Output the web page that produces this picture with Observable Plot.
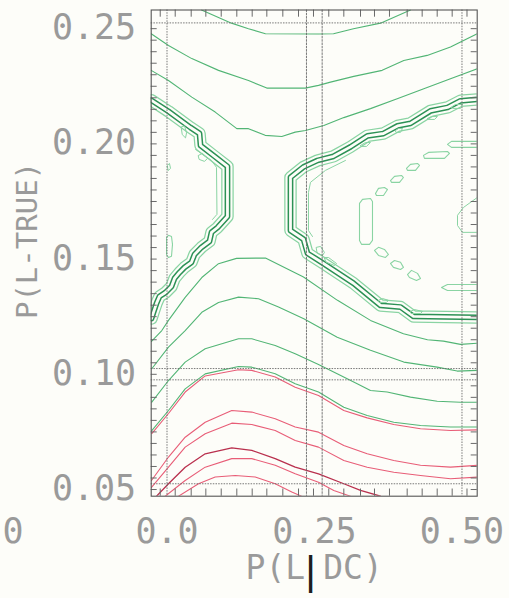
<!DOCTYPE html>
<html>
<head>
<meta charset="utf-8">
<script src="https://cdn.jsdelivr.net/npm/d3@7"></script>
<script src="https://cdn.jsdelivr.net/npm/@observablehq/plot@0.6"></script>
<style>
  html, body { margin: 0; padding: 0; background: #fdfdf9; overflow: hidden; }
</style>
</head>
<body>
<div id="chart"></div>
<script>
// ---- data (x = P(L|DC), y = P(L-TRUE)) ----
const contourA = [[0.0585,0.2556],[0.1093,0.2499],[0.1381,0.2475],[0.1669,0.2453],[0.2568,0.2452],[0.2822,0.2453],[0.3161,0.2475],[0.3619,0.2499],[0.4127,0.2556]];
const contourB = [[-0.0268,0.2453],[0.0025,0.2402],[0.042,0.2345],[0.0873,0.2294],[0.1381,0.225],[0.1692,0.2217],[0.2342,0.2217],[0.2568,0.2229],[0.2771,0.2243],[0.3166,0.2268],[0.3647,0.2294],[0.4014,0.2337],[0.441,0.2359],[0.4805,0.2395],[0.5258,0.2453]];
const contourC = [[-0.0268,0.2294],[0.0025,0.225],[0.042,0.2178],[0.0817,0.2113],[0.1183,0.2041],[0.1381,0.2041],[0.1664,0.2012],[0.1946,0.2007],[0.2173,0.2026],[0.2347,0.2033],[0.2658,0.2055],[0.2997,0.2089],[0.3449,0.2128],[0.3902,0.2171],[0.4353,0.2214],[0.4805,0.2258],[0.5258,0.2301]];

const lobeLeft = [[-0.0263,0.2164],[0.0025,0.2116],[0.0398,0.2046],[0.0551,0.202],[0.0568,0.1968],[0.0805,0.1921],[0.1025,0.1877],[0.1025,0.166],[0.0856,0.1612],[0.0754,0.1591],[0.072,0.1552],[0.0585,0.1526],[0.0466,0.1495],[0.0415,0.1461],[0.0297,0.1439],[0.0212,0.1417],[0.0127,0.1391],[0.0076,0.1356],[-0.0025,0.133],[-0.0127,0.1313],[-0.0178,0.1283],[-0.0229,0.1244],[-0.0263,0.1217]];
const lobeRight = [[0.5258,0.2168],[0.4975,0.2162],[0.4754,0.2133],[0.4466,0.2118],[0.4127,0.2064],[0.3907,0.2053],[0.3669,0.202],[0.3398,0.201],[0.311,0.1962],[0.2822,0.1921],[0.2551,0.1903],[0.2314,0.1875],[0.2093,0.183],[0.2093,0.1599],[0.2314,0.1561],[0.2381,0.15],[0.2653,0.1456],[0.3161,0.137],[0.3619,0.1274],[0.3958,0.1267],[0.4178,0.1226],[0.5258,0.1222]];
const innerLeft = [[0.0483,0.1951],[0.0754,0.1903],[0.0839,0.1873],[0.0847,0.1669],[0.0771,0.1647]];
const innerRight = [[0.3025,0.1903],[0.2686,0.186],[0.2432,0.1808],[0.2398,0.1764],[0.2398,0.1599],[0.2466,0.1573]];
const arcRight = [[0.5263,0.1743],[0.5025,0.1699],[0.4924,0.1665],[0.4924,0.1621],[0.5008,0.1591],[0.5263,0.1591]];

const islands = [
  [[0.5263,0.1986],[0.4822,0.1986],[0.4754,0.1973],[0.4822,0.196],[0.5263,0.196]],
  [[0.4347,0.1925],[0.4432,0.1938],[0.4754,0.1942],[0.4788,0.1934],[0.4703,0.1912],[0.4364,0.1912]],
  [[0.4059,0.1869],[0.4127,0.1886],[0.4246,0.189],[0.428,0.1882],[0.4212,0.186],[0.4076,0.186]],
  [[0.3788,0.1816],[0.3856,0.1834],[0.3975,0.1838],[0.4008,0.1829],[0.3941,0.1808],[0.3805,0.1808]],
  [[0.3534,0.176],[0.3585,0.1782],[0.3686,0.1786],[0.3737,0.1777],[0.3669,0.1751],[0.3551,0.1751]],
  [[0.3263,0.1717],[0.3314,0.1734],[0.3449,0.1738],[0.3483,0.1725],[0.3483,0.1556],[0.3432,0.1539],[0.3297,0.1539],[0.3263,0.1556]],
  [[0.3517,0.1513],[0.3585,0.1526],[0.3686,0.1517],[0.3754,0.1495],[0.3703,0.1482],[0.3585,0.1491]],
  [[0.3788,0.1456],[0.3856,0.1469],[0.3958,0.1461],[0.4008,0.1439],[0.3958,0.143],[0.3839,0.1439]],
  [[0.4076,0.1408],[0.4144,0.1426],[0.4246,0.1413],[0.4297,0.1391],[0.4229,0.1382],[0.411,0.1395]],
  [[0.4653,0.1352],[0.4754,0.1365],[0.5263,0.1365],[0.5263,0.1339],[0.4754,0.1339]],
  [[-0.0008,0.1569],[0.0025,0.1578],[0.0076,0.1573],[0.0093,0.1539],[0.0076,0.1487],[0.0025,0.1482],[-0.0008,0.1495],[-0.0008,0.1556]]
];
const loops = [
  [[0.4822,0.2135],[0.489,0.2146],[0.5008,0.2146],[0.4975,0.2129],[0.4856,0.2129]],
  [[0.4415,0.2085],[0.4483,0.2094],[0.4585,0.2094],[0.4534,0.2081],[0.4432,0.2081]],
  [[0.3873,0.2033],[0.3924,0.2042],[0.3992,0.2042],[0.3958,0.2025],[0.389,0.2025]],
  [[0.328,0.1968],[0.3364,0.1981],[0.3449,0.1981],[0.3381,0.1964],[0.3297,0.1964]],
  [[0.2534,0.1526],[0.2602,0.153],[0.2669,0.1504],[0.2636,0.1491],[0.2551,0.15]],
  [[0.2669,0.1482],[0.2737,0.1482],[0.2873,0.1456],[0.2839,0.1447],[0.2703,0.1461]],
  [[0.3585,0.1296],[0.3653,0.1304],[0.3754,0.1296],[0.372,0.1287],[0.3602,0.1287]],
  [[0.4127,0.1248],[0.4195,0.1256],[0.4331,0.1248],[0.4297,0.1239],[0.4144,0.1239]],
  [[0.0246,0.2049],[0.0297,0.2053],[0.0331,0.2023],[0.0314,0.2001],[0.0263,0.2014]],
  [[0.0534,0.1925],[0.0602,0.1934],[0.0686,0.1912],[0.0636,0.1899],[0.0551,0.1907]],
  [[0.0008,0.1882],[0.0042,0.189],[0.0059,0.1869],[0.0025,0.186]]
];

const green1 = [[-0.0263,0.1118],[-0.0088,0.1165],[0.0025,0.1209],[0.0308,0.1309],[0.059,0.1395],[0.0873,0.1455],[0.1178,0.1478],[0.1669,0.148],[0.2025,0.1434],[0.2314,0.1397],[0.289,0.1296],[0.3449,0.1209],[0.4008,0.1151],[0.4415,0.1125],[0.4686,0.1119],[0.4975,0.1105],[0.5258,0.111]];
const green2 = [[-0.0258,0.0999],[0.0025,0.1093],[0.0308,0.1165],[0.059,0.1244],[0.0873,0.1287],[0.1212,0.131],[0.1551,0.1303],[0.189,0.1267],[0.2319,0.1216],[0.2885,0.1136],[0.3449,0.1079],[0.4014,0.1028],[0.458,0.1006],[0.4919,0.0989],[0.5258,0.0992]];
const green3 = [[-0.0258,0.0854],[0.0025,0.0948],[0.0308,0.1028],[0.0647,0.1086],[0.1212,0.1129],[0.1437,0.1129],[0.1834,0.11],[0.2173,0.1064],[0.2568,0.1018],[0.2885,0.0977],[0.3224,0.0934],[0.3449,0.0905],[0.3732,0.0898],[0.4127,0.0876],[0.458,0.0858],[0.4975,0.0854],[0.5258,0.0854]];
const green4 = [[-0.0258,0.0731],[0.0025,0.0818],[0.0308,0.0912],[0.0647,0.0977],[0.1212,0.1009],[0.1437,0.1006],[0.1834,0.0977],[0.2173,0.0934],[0.2568,0.0898],[0.2997,0.0832],[0.3393,0.0796],[0.3844,0.0767],[0.4297,0.0753],[0.4805,0.0746],[0.5258,0.0746]];

const red1 = [[-0.0258,0.0718],[0.0025,0.0805],[0.0308,0.0898],[0.0647,0.0968],[0.1212,0.0995],[0.1437,0.0992],[0.1834,0.0963],[0.2173,0.0919],[0.2568,0.0883],[0.2997,0.0818],[0.3393,0.0786],[0.3844,0.0757],[0.4297,0.0739],[0.4805,0.0731],[0.5258,0.0734]];
const red2 = [[-0.0263,0.0514],[0.0025,0.0616],[0.0308,0.0702],[0.0647,0.0767],[0.1098,0.0818],[0.1437,0.0811],[0.1834,0.0782],[0.2173,0.0746],[0.2568,0.0724],[0.2997,0.0666],[0.3393,0.063],[0.3844,0.0601],[0.4297,0.058],[0.4805,0.0572],[0.5258,0.058]];
const red3 = [[-0.0263,0.0484],[0.0025,0.0572],[0.0308,0.0659],[0.0647,0.0717],[0.1098,0.0763],[0.1437,0.0757],[0.1834,0.0731],[0.2173,0.0688],[0.2568,0.0659],[0.2997,0.0601],[0.3393,0.0572],[0.3844,0.055],[0.4297,0.0536],[0.4805,0.0522],[0.5258,0.0529]];
const red4 = [[-0.0178,0.0446],[0.0025,0.05],[0.0308,0.0572],[0.0647,0.063],[0.1098,0.0656],[0.1437,0.0645],[0.1834,0.0609],[0.2173,0.0572],[0.2568,0.0543],[0.2997,0.05],[0.328,0.0471],[0.3619,0.0446]];
const red5 = [[-0.0031,0.0446],[0.0308,0.0514],[0.0647,0.0572],[0.1098,0.0609],[0.1437,0.0609],[0.1834,0.058],[0.2173,0.0543],[0.2568,0.0507],[0.2827,0.0471],[0.311,0.0446]];
const red6 = [[0.0195,0.0446],[0.0534,0.05],[0.0817,0.0529],[0.1156,0.0536],[0.1495,0.0529],[0.1834,0.05],[0.2115,0.0464],[0.228,0.0446]];

const gridX = [0, 0.5];
const gridXMid = [0.2364, 0.263];
const gridY = [0.05, 0.0951, 0.10, 0.25];
const xTicks = [-0.0115, 0.0139, 0.041, 0.0658, 0.0919, 0.1183, 0.1444, 0.1692, 0.1963, 0.2229, 0.2483, 0.2742, 0.2997, 0.328, 0.3517, 0.3771, 0.4071, 0.4325, 0.458, 0.4834, 0.5085];
const yTicks = [0.0475,0.0525,0.0575,0.0625,0.0675,0.0725,0.0775,0.0825,0.0875,0.0925,0.0975,0.1025,0.1075,0.1125,0.1175,0.1225,0.1275,0.1325,0.1375,0.1425,0.1475,0.1525,0.1575,0.1625,0.1675,0.1725,0.1775,0.1825,0.1875,0.1925,0.1975,0.2025,0.2075,0.2125,0.2175,0.2225,0.2275,0.2325,0.2375,0.2425,0.2475];
const yLabels = [0.25, 0.20, 0.15, 0.10, 0.05];
const yLabelText = ["0.25", "0.20", "0.15", "0.10", "0.05"];
const xLabels = [-0.261, 0, 0.25, 0.5];
const xLabelText = ["0", "0.0", "0.25", "0.50"];
const xTitleLeft = "P(L";
const xTitleBar = "|";
const xTitleRight = "DC)";
const yTitle = "P(L-TRUE)";

// ---- styles ----
const bg = "#fdfdf9";
const GREEN = "#52b575";
const DARKGREEN = "#2c9155";
const LIGHTGREEN = "#8ad4a3";
const RED = "#e85d77";
const DARKRED = "#b9304e";
const GRID = "#6a6a6a";
const LABEL = "#9a9a9a";
const FONT = "DejaVu Sans Mono";

const fx = d => d[0], fy = d => d[1];
const thin = (data, stroke, w = 1.1) => Plot.line(data, {x: fx, y: fy, stroke, strokeWidth: w, clip: true});

function bundle(data) {
  return [
    Plot.line(data, {x: fx, y: fy, stroke: LIGHTGREEN, strokeWidth: 12.5, strokeLinejoin: "round", clip: true}),
    Plot.line(data, {x: fx, y: fy, stroke: bg, strokeWidth: 10, strokeLinejoin: "round", clip: true}),
    Plot.line(data, {x: fx, y: fy, stroke: DARKGREEN, strokeWidth: 5.8, strokeLinejoin: "round", clip: true}),
    Plot.line(data, {x: fx, y: fy, stroke: bg, strokeWidth: 2.8, strokeLinejoin: "round", clip: true})
  ];
}
const flat = (groups) => groups.flatMap((pts, k) => pts.map(p => ({x: p[0], y: p[1], k})));

const chart = Plot.plot({
  width: 509,
  height: 598,
  marginLeft: 150.7,
  marginRight: 32.3,
  marginTop: 9.5,
  marginBottom: 102.3,
  x: {domain: [-0.0268, 0.5258], axis: null},
  y: {domain: [0.0446, 0.2556], axis: null},
  style: {background: bg, overflow: "visible"},
  marks: [
    ...bundle(lobeLeft),
    ...bundle(lobeRight),
    thin(contourA, GREEN),
    thin(contourB, GREEN),
    thin(contourC, GREEN),
    thin(innerLeft, LIGHTGREEN, 1),
    thin(innerRight, LIGHTGREEN, 1),
    thin(arcRight, LIGHTGREEN, 1),
    Plot.line(flat(islands), {x: "x", y: "y", z: "k", curve: "linear-closed", stroke: LIGHTGREEN, strokeWidth: 1.1, clip: true}),
    Plot.line(flat(loops), {x: "x", y: "y", z: "k", curve: "linear-closed", stroke: LIGHTGREEN, strokeWidth: 1, clip: true}),
    thin(green1, GREEN),
    thin(green2, GREEN),
    thin(green3, GREEN),
    thin(red1, RED),
    thin(green4, GREEN),
    thin(red2, RED),
    thin(red3, RED),
    thin(red4, DARKRED, 1.3),
    thin(red5, RED),
    thin(red6, RED),
    // grid
    Plot.ruleX(gridX, {stroke: GRID, strokeWidth: 0.9, strokeDasharray: "1.5,1.2"}),
    Plot.ruleX(gridXMid, {stroke: GRID, strokeWidth: 0.9, strokeDasharray: "2.5,0.8"}),
    Plot.ruleY(gridY, {stroke: GRID, strokeWidth: 0.9, strokeDasharray: "1.5,1.2"}),
    // ticks
    Plot.tickX(xTicks, {x: d => d, stroke: GRID, strokeWidth: 1, insetBottom: 479}),
    Plot.tickX(xTicks, {x: d => d, stroke: GRID, strokeWidth: 1, insetTop: 479}),
    Plot.tickY(yTicks, {y: d => d, stroke: GRID, strokeWidth: 1, insetRight: 320}),
    Plot.tickY(yTicks, {y: d => d, stroke: GRID, strokeWidth: 1, insetLeft: 320}),
    Plot.frame({stroke: "#555", strokeWidth: 1.1}),
    // labels
    Plot.text(yLabels, {y: d => d, text: (d, i) => yLabelText[i], frameAnchor: "left", textAnchor: "end", lineAnchor: "middle", dx: -15, dy: 5, fontSize: 35, fontFamily: FONT, fill: LABEL}),
    Plot.text(xLabels, {x: d => d, text: (d, i) => xLabelText[i], frameAnchor: "bottom", lineAnchor: "middle", textAnchor: "middle", dy: 36, fontSize: 35, fontFamily: FONT, fill: LABEL, clip: false}),
    Plot.text([xTitleLeft], {frameAnchor: "bottom", lineAnchor: "middle", textAnchor: "end", dx: -9, dy: 72, fontSize: 33, fontFamily: FONT, fill: LABEL}),
    Plot.text([xTitleRight], {frameAnchor: "bottom", lineAnchor: "middle", textAnchor: "start", dx: 9, dy: 72, fontSize: 33, fontFamily: FONT, fill: LABEL}),
    Plot.text([xTitleBar], {frameAnchor: "bottom", lineAnchor: "middle", textAnchor: "middle", dx: -3.7, dy: 76, fontSize: 41, fontFamily: "Liberation Sans", fill: "#1e1e1e"}),
    Plot.text([yTitle], {frameAnchor: "left", textAnchor: "middle", lineAnchor: "middle", dx: -123, dy: -12.6, rotate: -90, fontSize: 29, fontFamily: FONT, fill: LABEL})
  ]
});
document.getElementById("chart").appendChild(chart);
</script>
</body>
</html>
